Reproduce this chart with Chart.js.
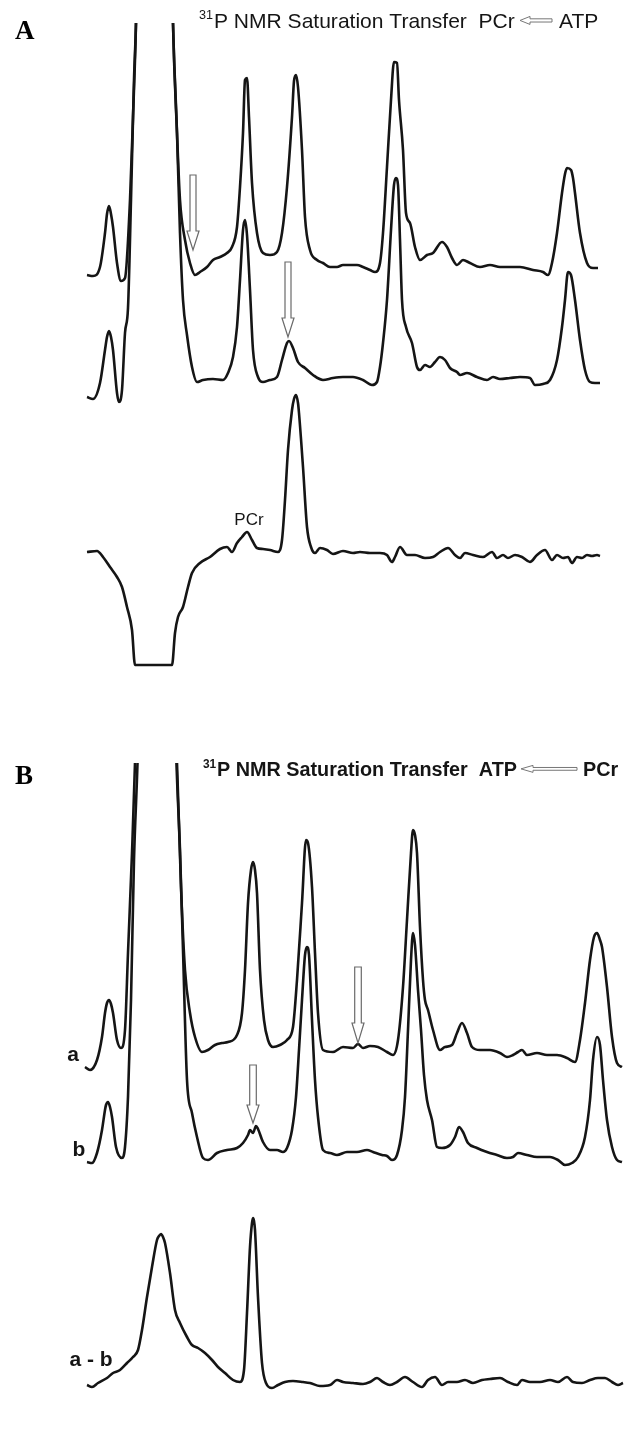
<!DOCTYPE html>
<html>
<head>
<meta charset="utf-8">
<script src="https://cdn.jsdelivr.net/npm/chart.js@4"></script>
<style>
  html, body { margin: 0; padding: 0; background: #fff; }
  #wrap { position: relative; width: 624px; height: 1432px; overflow: hidden; }
  canvas { position: absolute; left: 0; }
  #chartA { top: 0; }
  #chartB { top: 716px; }
</style>
</head>
<body>
<div id="wrap">
  <canvas id="chartA" width="624" height="716"></canvas>
  <canvas id="chartB" width="624" height="716"></canvas>
</div>
<script>
// ===== data: [point index, intensity relative to the trace baseline] =====
// panel A, top trace (reference)
const specA1 = [[87,-8],[93,-9],[100,0],[105,34],[107,53],[109,61],[111,53],[113,40],[117,4],[121,-14],[125,-11],
  [130,67],[133,150],[136,244],[137.5,330],[155,1500],[171.5,330],[173,244],[177,134],[180,67],
  [185,27],[190,4],[195,-8],[200,-5],[207,0],[213,7],[220,10],[227,14],[232,20],[237,40],[240,80],
  [243,134],[245,187],[247,189],[249,150],[252,84],[257,34],[263,14],[270,12],[277,15],[282,34],
  [287,80],[292,150],[294,186],[296,192],[298,180],[302,117],[305,50],[310,17],[317,7],[323,4],[330,0],
  [337,0],[343,2],[350,2],[357,2],[363,0],[370,-3],[375,-5],[380,4],[383,34],[387,100],[391,167],
  [394,205],[397,204],[399,167],[403,117],[406,54],[410,44],[415,20],[420,7],[427,12],[433,14],
  [442,25],[447,20],[452,9],[457,2],[463,7],[470,4],[480,0],[490,2],[500,0],[510,0],[520,0],
  [533,-3],[543,-5],[548,-8],[552,4],[557,34],[562,74],[565,93],[567,99],[571,97],[573,89],[575,74],[580,34],
  [587,4],[593,-1],[598,-1]];
// panel A, middle trace (ATP saturated)
const specA2 = [[87,-17],[93,-19],[100,-3],[105,30],[107,43],[109,49],[111,43],[113,30],[117,-13],[119,-22],[122,-10],
  [125,47],[128,72],[131,180],[134,300],[136,357],[137.5,430],[155,1500],[171.5,430],[173,357],
  [177,247],[180,147],[183,80],[187,45],[192,13],[197,-2],[203,0],[213,1],[223,0],[228,7],[233,23],
  [237,53],[240,100],[243,150],[245,160],[247,145],[250,90],[253,30],[258,3],[263,-2],[270,0],
  [277,3],[282,20],[287,37],[289,39],[293,32],[298,18],[305,12],[313,5],[323,0],[333,2],[343,3],
  [353,3],[363,0],[372,-5],[377,-2],[380,13],[383,37],[387,80],[391,150],[394,195],[396,202],
  [398,195],[400,140],[402,80],[406,53],[412,37],[417,13],[420,10],[425,15],[430,13],[435,18],
  [440,23],[445,20],[450,12],[457,8],[460,5],[467,7],[477,3],[487,0],[493,3],[500,1],[510,2],
  [520,3],[530,2],[535,-5],[543,-4],[550,0],[557,20],[562,53],[565,80],[568,108],[571,105],
  [575,80],[580,40],[585,10],[590,-2],[595,-3],[600,-3]];
// panel A, bottom trace (difference)
const specA3 = [[87,1],[97,2],[103,-4],[110,-14],[117,-24],[122,-34],[127,-54],[132,-77],[135,-112],
  [172,-112],[175,-80],[178,-64],[183,-54],[188,-34],[192,-20],[200,-10],[210,-4],[220,4],[227,6],
  [232,1],[237,10],[242,16],[247,21],[252,13],[257,5],[263,4],[270,3],[278,1],[282,13],[285,53],
  [288,103],[292,143],[294,154],[296,158],[298,150],[299,140],[303,86],[307,26],[311,6],[315,0],[320,5],[327,3],
  [333,-1],[343,2],[353,0],[360,1],[370,0],[380,0],[387,-2],[392,-9],[395,-4],[400,6],[407,-2],
  [415,-2],[425,-5],[433,-4],[440,1],[448,5],[455,-2],[460,-5],[465,0],[473,-2],[483,-4],[492,1],
  [497,-5],[503,-2],[508,-5],[515,-2],[522,-4],[530,-9],[537,-2],[545,3],[552,-7],[557,-2],
  [563,-5],[568,-4],[572,-10],[577,-4],[582,-5],[587,-2],[592,-3],[597,-2],[600,-3]];

// panel B, trace a
const specBa = [[85,-17],[90,-20],[97,-10],[102,13],[105,37],[107,47],[109,50],[111,46],[113,37],[117,10],[121,2],
  [125,20],[128,97],[132,197],[135,287],[136.5,350],[156,1500],[175.5,350],[177,287],[181,163],
  [185,80],[190,37],[195,13],[202,-2],[208,0],[215,5],[222,7],[228,8],[237,15],[242,37],[245,80],
  [248,147],[251,180],[253,188],[255,180],[257,157],[260,80],[264,30],[268,10],[273,3],[280,5],
  [287,10],[293,23],[297,70],[302,147],[306,210],[308,207],[312,163],[315,97],[318,37],[323,0],
  [333,-2],[343,3],[353,2],[358,6],[363,2],[370,4],[378,3],[387,-2],[393,-5],[398,10],[403,63],
  [407,130],[411,197],[413,220],[415,215],[417,197],[420,123],[423,70],[425,50],[428,40],[433,20],
  [440,0],[445,3],[452,5],[457,17],[462,27],[467,17],[472,3],[480,0],[490,0],[500,-3],[507,-7],
  [513,-5],[518,-2],[522,0],[527,-5],[537,-3],[547,-5],[557,-5],[567,-8],[575,-12],[580,10],
  [585,47],[590,90],[594,113],[597,117],[600,110],[602,103],[607,63],[612,13],[617,-13],[622,-17]];
// panel B, trace b
const specBb = [[87,-9],[92,-10],[97,0],[102,23],[105,43],[106,48],[108,51],[110,46],[112,36],[116,6],[122,-5],
  [125,6],[128,56],[131,153],[134,293],[137.5,390],[139,450],[157,2000],[175,450],[176.5,390],
  [180,303],[183,203],[187,73],[192,40],[197,16],[203,-5],[208,-7],[217,0],[227,3],[237,5],
  [243,10],[248,18],[250,23],[253,20],[256,27],[258,24],[263,11],[270,3],[277,3],[283,1],[287,5],
  [292,23],[296,56],[299,103],[302,153],[305,198],[307,206],[309,198],[312,133],[315,73],[318,36],
  [323,3],[330,0],[337,-2],[347,1],[357,1],[367,3],[373,1],[382,-2],[387,-3],[392,-7],[397,-2],
  [402,23],[405,56],[408,123],[411,193],[413,220],[415,208],[418,163],[421,123],[424,78],[427,53],
  [432,33],[437,6],[442,5],[450,8],[455,16],[459,26],[463,21],[468,10],[477,5],[487,1],[497,-2],
  [507,-5],[513,-4],[518,0],[527,-2],[537,-4],[550,-4],[558,-7],[565,-12],[572,-10],[578,-4],
  [585,16],[590,53],[593,93],[597,116],[600,108],[603,73],[607,33],[612,6],[617,-7],[622,-9]];
// panel B, trace a - b
const specBab = [[87,-3],[92,-5],[98,-1],[107,4],[113,9],[120,12],[127,19],[133,25],[138,32],
  [142,52],[147,85],[152,115],[157,142],[159,146],[161,148],[163,145],[165,139],[170,109],[175,72],[180,59],[187,45],
  [192,37],[198,34],[205,29],[212,22],[218,15],[225,9],[233,2],[240,0],[244,12],[247,69],[250,135],
  [252,159],[253,164],[254,161],[255,152],[258,85],[262,19],[266,-1],[272,-6],[278,-3],[285,0],[293,1],[303,0],
  [310,-1],[320,-4],[330,-3],[337,2],[343,0],[353,-1],[363,-2],[370,0],[377,4],[383,0],[390,-3],
  [397,0],[405,5],[413,0],[422,-5],[428,2],[435,5],[442,-3],[448,0],[457,0],[465,2],[473,-1],
  [482,2],[490,3],[500,4],[508,0],[517,-3],[522,2],[530,0],[540,0],[550,2],[558,0],[567,5],
  [573,0],[582,-1],[590,2],[598,4],[605,4],[612,0],[618,-3],[623,-1]];

// ===== layout / style =====
const INK = '#151515';
const FONT = '"Liberation Sans", Arial, sans-serif';

function toXY(pairs, offset) {
  return pairs.map(([x, v]) => ({ x: x, y: v + offset }));
}

function trace(pairs, offset) {
  return {
    data: toXY(pairs, offset),
    borderColor: INK,
    borderWidth: 2.6,
    pointRadius: 0,
    fill: false,
    cubicInterpolationMode: 'monotone',
    clip: 0
  };
}

function downArrow(ctx, x, yTop, yTip, sw, hw, hl) {
  ctx.beginPath();
  ctx.moveTo(x - sw, yTop);
  ctx.lineTo(x + sw, yTop);
  ctx.lineTo(x + sw, yTip - hl);
  ctx.lineTo(x + hw, yTip - hl);
  ctx.lineTo(x, yTip);
  ctx.lineTo(x - hw, yTip - hl);
  ctx.lineTo(x - sw, yTip - hl);
  ctx.closePath();
  ctx.fillStyle = '#fff';
  ctx.fill();
  ctx.strokeStyle = '#6a6a6a';
  ctx.lineWidth = 1.2;
  ctx.stroke();
}

function leftArrow(ctx, xTip, xEnd, y, sh, hh, hl) {
  ctx.beginPath();
  ctx.moveTo(xTip, y);
  ctx.lineTo(xTip + hl, y - hh);
  ctx.lineTo(xTip + hl, y - sh);
  ctx.lineTo(xEnd, y - sh);
  ctx.lineTo(xEnd, y + sh);
  ctx.lineTo(xTip + hl, y + sh);
  ctx.lineTo(xTip + hl, y + hh);
  ctx.closePath();
  ctx.fillStyle = '#fff';
  ctx.fill();
  ctx.strokeStyle = '#777';
  ctx.lineWidth = 1;
  ctx.stroke();
}

// title: superscript 31, main text fitted between xStart..xEnd, arrow, last word
function drawTitle(ctx, t) {
  ctx.fillStyle = INK;
  ctx.textBaseline = 'alphabetic';
  ctx.textAlign = 'left';
  ctx.font = `${t.weight} 20px ${FONT}`;
  const size = 20 * (t.xEnd - t.xStart) / ctx.measureText(t.main).width;
  ctx.font = `${t.weight} ${size}px ${FONT}`;
  ctx.fillText(t.main, t.xStart, t.base);
  ctx.fillText(t.last, t.xLast, t.base);
  ctx.font = `${t.weight} ${size * 0.6}px ${FONT}`;
  ctx.fillText('31', t.x31, t.base - size * 0.42);
  leftArrow(ctx, t.arrow[0], t.arrow[1], t.base - size * 0.36, t.arrow[2], t.arrow[3], t.arrow[4]);
}

function annotations(cfg) {
  return {
    id: 'annot',
    afterDraw(chart) {
      const ctx = chart.ctx;
      const xs = chart.scales.x, ys = chart.scales.y;
      ctx.save();
      // panel letter
      ctx.fillStyle = '#000';
      ctx.font = `bold 27px "Liberation Serif", "Times New Roman", serif`;
      ctx.textAlign = 'left';
      ctx.textBaseline = 'alphabetic';
      ctx.fillText(cfg.letter, 15, cfg.letterBase);
      drawTitle(ctx, cfg.title);
      cfg.arrows.forEach(a => {
        downArrow(ctx, xs.getPixelForValue(a.x), ys.getPixelForValue(a.top),
          ys.getPixelForValue(a.tip), a.sw, a.hw, a.hl);
      });
      cfg.labels.forEach(l => {
        ctx.fillStyle = INK;
        ctx.font = `${l.weight} ${l.size}px ${FONT}`;
        ctx.textAlign = 'center';
        ctx.textBaseline = 'middle';
        ctx.fillText(l.text, xs.getPixelForValue(l.x), ys.getPixelForValue(l.y));
      });
      ctx.restore();
    }
  };
}

function makeChart(id, datasets, yMax, padTop, plugin) {
  return new Chart(document.getElementById(id), {
    type: 'line',
    data: { datasets },
    options: {
      responsive: false,
      animation: false,
      devicePixelRatio: 1,
      layout: { padding: { top: padTop, left: 0, right: 0, bottom: 0 } },
      plugins: { legend: { display: false }, tooltip: { enabled: false } },
      scales: {
        x: { type: 'linear', min: 0, max: 624, display: false },
        y: { type: 'linear', min: 0, max: yMax, display: false }
      }
    },
    plugins: [plugin]
  });
}

// panel A: chart area 23..716 px, 1 unit per px
makeChart('chartA', [
  trace(specA1, 449),
  trace(specA2, 336),
  trace(specA3, 163)
], 693, 23, annotations({
  letter: 'A', letterBase: 39,
  title: { weight: 'normal', main: 'P NMR Saturation Transfer  PCr', x31: 199, xStart: 214,
    xEnd: 515, base: 28, last: 'ATP', xLast: 559, arrow: [520, 552, 1.6, 4, 10] },
  arrows: [
    { x: 193, top: 541, tip: 466, sw: 3, hw: 6, hl: 19 },
    { x: 288, top: 454, tip: 379, sw: 3, hw: 6, hl: 19 }
  ],
  labels: [{ text: 'PCr', x: 249, y: 196, size: 17, weight: 'normal' }]
}));

// panel B: chart area 763..1432 px
makeChart('chartB', [
  trace(specBa, 382),
  trace(specBb, 279),
  trace(specBab, 50)
], 669, 47, annotations({
  letter: 'B', letterBase: 68,
  title: { weight: 'bold', main: 'P NMR Saturation Transfer  ATP', x31: 203, xStart: 217,
    xEnd: 517, base: 60, last: 'PCr', xLast: 583, arrow: [521, 577, 1.4, 3.5, 12] },
  arrows: [
    { x: 358, top: 465, tip: 389, sw: 3.3, hw: 6, hl: 20 },
    { x: 253, top: 367, tip: 309, sw: 3.3, hw: 6, hl: 18 }
  ],
  labels: [
    { text: 'a', x: 73, y: 377, size: 21, weight: 'bold' },
    { text: 'b', x: 79, y: 282, size: 21, weight: 'bold' },
    { text: 'a - b', x: 91, y: 72, size: 21, weight: 'bold' }
  ]
}));
</script>
</body>
</html>
